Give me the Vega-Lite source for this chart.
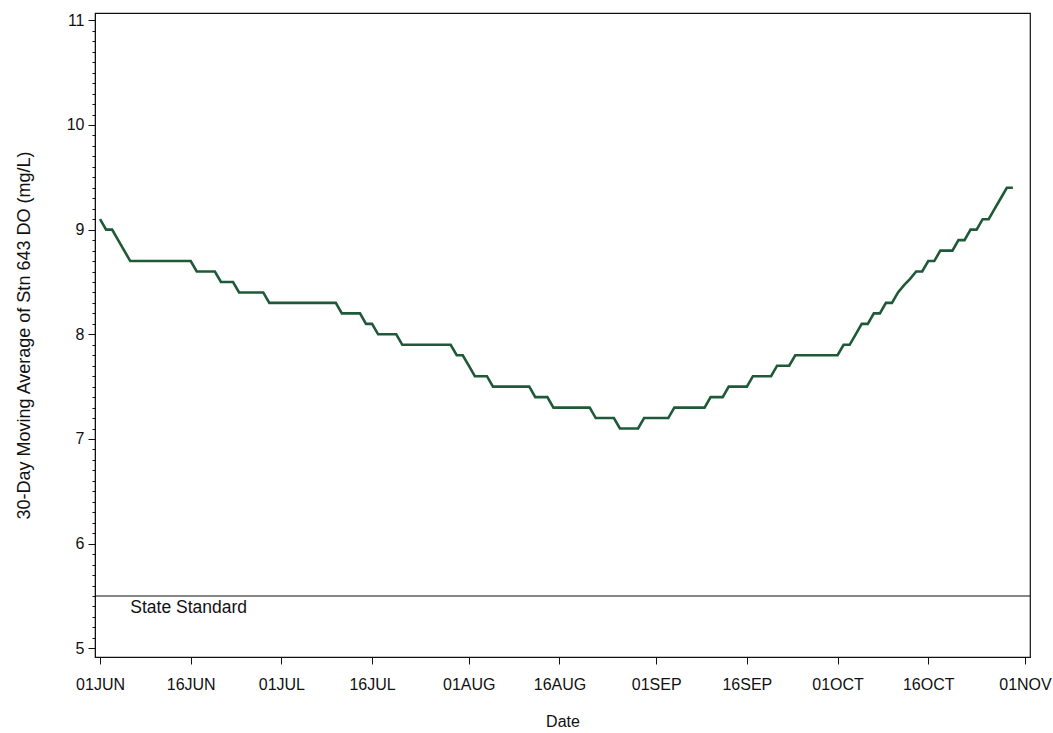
{
  "$schema": "https://vega.github.io/schema/vega-lite/v6.json",
  "autosize": "none",
  "width": 935,
  "height": 644,
  "padding": {"left": 95, "top": 13, "right": 23, "bottom": 76},
  "background": "white",
  "config": {
    "font": "Liberation Sans",
    "view": {"stroke": "#111", "strokeWidth": 1.2},
    "axis": {
      "domainColor": "#111",
      "tickColor": "#111",
      "labelColor": "#111",
      "titleColor": "#111",
      "grid": false,
      "labelFont": "Liberation Sans",
      "titleFont": "Liberation Sans",
      "titleFontWeight": "normal",
      "labelFontSize": 16,
      "titleFontSize": 16
    }
  },
  "data": {
    "values": [
      {"date": "2010-06-01", "do": 9.1},
      {"date": "2010-06-02", "do": 9.0},
      {"date": "2010-06-03", "do": 9.0},
      {"date": "2010-06-04", "do": 8.9},
      {"date": "2010-06-05", "do": 8.8},
      {"date": "2010-06-06", "do": 8.7},
      {"date": "2010-06-07", "do": 8.7},
      {"date": "2010-06-08", "do": 8.7},
      {"date": "2010-06-09", "do": 8.7},
      {"date": "2010-06-10", "do": 8.7},
      {"date": "2010-06-11", "do": 8.7},
      {"date": "2010-06-12", "do": 8.7},
      {"date": "2010-06-13", "do": 8.7},
      {"date": "2010-06-14", "do": 8.7},
      {"date": "2010-06-15", "do": 8.7},
      {"date": "2010-06-16", "do": 8.7},
      {"date": "2010-06-17", "do": 8.6},
      {"date": "2010-06-18", "do": 8.6},
      {"date": "2010-06-19", "do": 8.6},
      {"date": "2010-06-20", "do": 8.6},
      {"date": "2010-06-21", "do": 8.5},
      {"date": "2010-06-22", "do": 8.5},
      {"date": "2010-06-23", "do": 8.5},
      {"date": "2010-06-24", "do": 8.4},
      {"date": "2010-06-25", "do": 8.4},
      {"date": "2010-06-26", "do": 8.4},
      {"date": "2010-06-27", "do": 8.4},
      {"date": "2010-06-28", "do": 8.4},
      {"date": "2010-06-29", "do": 8.3},
      {"date": "2010-06-30", "do": 8.3},
      {"date": "2010-07-01", "do": 8.3},
      {"date": "2010-07-02", "do": 8.3},
      {"date": "2010-07-03", "do": 8.3},
      {"date": "2010-07-04", "do": 8.3},
      {"date": "2010-07-05", "do": 8.3},
      {"date": "2010-07-06", "do": 8.3},
      {"date": "2010-07-07", "do": 8.3},
      {"date": "2010-07-08", "do": 8.3},
      {"date": "2010-07-09", "do": 8.3},
      {"date": "2010-07-10", "do": 8.3},
      {"date": "2010-07-11", "do": 8.2},
      {"date": "2010-07-12", "do": 8.2},
      {"date": "2010-07-13", "do": 8.2},
      {"date": "2010-07-14", "do": 8.2},
      {"date": "2010-07-15", "do": 8.1},
      {"date": "2010-07-16", "do": 8.1},
      {"date": "2010-07-17", "do": 8.0},
      {"date": "2010-07-18", "do": 8.0},
      {"date": "2010-07-19", "do": 8.0},
      {"date": "2010-07-20", "do": 8.0},
      {"date": "2010-07-21", "do": 7.9},
      {"date": "2010-07-22", "do": 7.9},
      {"date": "2010-07-23", "do": 7.9},
      {"date": "2010-07-24", "do": 7.9},
      {"date": "2010-07-25", "do": 7.9},
      {"date": "2010-07-26", "do": 7.9},
      {"date": "2010-07-27", "do": 7.9},
      {"date": "2010-07-28", "do": 7.9},
      {"date": "2010-07-29", "do": 7.9},
      {"date": "2010-07-30", "do": 7.8},
      {"date": "2010-07-31", "do": 7.8},
      {"date": "2010-08-01", "do": 7.7},
      {"date": "2010-08-02", "do": 7.6},
      {"date": "2010-08-03", "do": 7.6},
      {"date": "2010-08-04", "do": 7.6},
      {"date": "2010-08-05", "do": 7.5},
      {"date": "2010-08-06", "do": 7.5},
      {"date": "2010-08-07", "do": 7.5},
      {"date": "2010-08-08", "do": 7.5},
      {"date": "2010-08-09", "do": 7.5},
      {"date": "2010-08-10", "do": 7.5},
      {"date": "2010-08-11", "do": 7.5},
      {"date": "2010-08-12", "do": 7.4},
      {"date": "2010-08-13", "do": 7.4},
      {"date": "2010-08-14", "do": 7.4},
      {"date": "2010-08-15", "do": 7.3},
      {"date": "2010-08-16", "do": 7.3},
      {"date": "2010-08-17", "do": 7.3},
      {"date": "2010-08-18", "do": 7.3},
      {"date": "2010-08-19", "do": 7.3},
      {"date": "2010-08-20", "do": 7.3},
      {"date": "2010-08-21", "do": 7.3},
      {"date": "2010-08-22", "do": 7.2},
      {"date": "2010-08-23", "do": 7.2},
      {"date": "2010-08-24", "do": 7.2},
      {"date": "2010-08-25", "do": 7.2},
      {"date": "2010-08-26", "do": 7.1},
      {"date": "2010-08-27", "do": 7.1},
      {"date": "2010-08-28", "do": 7.1},
      {"date": "2010-08-29", "do": 7.1},
      {"date": "2010-08-30", "do": 7.2},
      {"date": "2010-08-31", "do": 7.2},
      {"date": "2010-09-01", "do": 7.2},
      {"date": "2010-09-02", "do": 7.2},
      {"date": "2010-09-03", "do": 7.2},
      {"date": "2010-09-04", "do": 7.3},
      {"date": "2010-09-05", "do": 7.3},
      {"date": "2010-09-06", "do": 7.3},
      {"date": "2010-09-07", "do": 7.3},
      {"date": "2010-09-08", "do": 7.3},
      {"date": "2010-09-09", "do": 7.3},
      {"date": "2010-09-10", "do": 7.4},
      {"date": "2010-09-11", "do": 7.4},
      {"date": "2010-09-12", "do": 7.4},
      {"date": "2010-09-13", "do": 7.5},
      {"date": "2010-09-14", "do": 7.5},
      {"date": "2010-09-15", "do": 7.5},
      {"date": "2010-09-16", "do": 7.5},
      {"date": "2010-09-17", "do": 7.6},
      {"date": "2010-09-18", "do": 7.6},
      {"date": "2010-09-19", "do": 7.6},
      {"date": "2010-09-20", "do": 7.6},
      {"date": "2010-09-21", "do": 7.7},
      {"date": "2010-09-22", "do": 7.7},
      {"date": "2010-09-23", "do": 7.7},
      {"date": "2010-09-24", "do": 7.8},
      {"date": "2010-09-25", "do": 7.8},
      {"date": "2010-09-26", "do": 7.8},
      {"date": "2010-09-27", "do": 7.8},
      {"date": "2010-09-28", "do": 7.8},
      {"date": "2010-09-29", "do": 7.8},
      {"date": "2010-09-30", "do": 7.8},
      {"date": "2010-10-01", "do": 7.8},
      {"date": "2010-10-02", "do": 7.9},
      {"date": "2010-10-03", "do": 7.9},
      {"date": "2010-10-04", "do": 8.0},
      {"date": "2010-10-05", "do": 8.1},
      {"date": "2010-10-06", "do": 8.1},
      {"date": "2010-10-07", "do": 8.2},
      {"date": "2010-10-08", "do": 8.2},
      {"date": "2010-10-09", "do": 8.3},
      {"date": "2010-10-10", "do": 8.3},
      {"date": "2010-10-11", "do": 8.4},
      {"date": "2010-10-12", "do": 8.47},
      {"date": "2010-10-13", "do": 8.53},
      {"date": "2010-10-14", "do": 8.6},
      {"date": "2010-10-15", "do": 8.6},
      {"date": "2010-10-16", "do": 8.7},
      {"date": "2010-10-17", "do": 8.7},
      {"date": "2010-10-18", "do": 8.8},
      {"date": "2010-10-19", "do": 8.8},
      {"date": "2010-10-20", "do": 8.8},
      {"date": "2010-10-21", "do": 8.9},
      {"date": "2010-10-22", "do": 8.9},
      {"date": "2010-10-23", "do": 9.0},
      {"date": "2010-10-24", "do": 9.0},
      {"date": "2010-10-25", "do": 9.1},
      {"date": "2010-10-26", "do": 9.1},
      {"date": "2010-10-27", "do": 9.2},
      {"date": "2010-10-28", "do": 9.3},
      {"date": "2010-10-29", "do": 9.4},
      {"date": "2010-10-30", "do": 9.4}
    ]
  },
  "layer": [
    {
      "mark": {"type": "line", "color": "#1f5a38", "strokeWidth": 2.6},
      "encoding": {
        "x": {
          "field": "date",
          "type": "temporal",
          "scale": {
            "type": "utc",
            "domain": [
              {"year": 2010, "month": 5, "date": 31, "hours": 4, "utc": true},
              {"year": 2010, "month": 11, "date": 1, "hours": 20, "utc": true}
            ]
          },
          "axis": {
            "title": "Date",
            "values": [
              {"year": 2010, "month": 6, "date": 1, "utc": true},
              {"year": 2010, "month": 6, "date": 16, "utc": true},
              {"year": 2010, "month": 7, "date": 1, "utc": true},
              {"year": 2010, "month": 7, "date": 16, "utc": true},
              {"year": 2010, "month": 8, "date": 1, "utc": true},
              {"year": 2010, "month": 8, "date": 16, "utc": true},
              {"year": 2010, "month": 9, "date": 1, "utc": true},
              {"year": 2010, "month": 9, "date": 16, "utc": true},
              {"year": 2010, "month": 10, "date": 1, "utc": true},
              {"year": 2010, "month": 10, "date": 16, "utc": true},
              {"year": 2010, "month": 11, "date": 1, "utc": true}
            ],
            "labelExpr": "upper(utcFormat(datum.value, '%d%b'))",
            "labelFlush": false,
            "labelOverlap": false,
            "tickSize": 7,
            "labelPadding": 12,
            "titlePadding": 21
          }
        },
        "y": {
          "field": "do",
          "type": "quantitative",
          "scale": {"domain": [4.917, 11.07], "nice": false, "zero": false},
          "axis": {
            "orient": "left",
            "title": "30-Day Moving Average of Stn 643 DO (mg/L)",
            "titleFontSize": 18,
            "values": [5, 6, 7, 8, 9, 10, 11],
            "tickSize": 7,
            "labelPadding": 4,
            "titlePadding": 33
          }
        }
      }
    },
    {
      "data": {"values": [{}]},
      "mark": {"type": "rule", "color": "#111", "strokeWidth": 1.2},
      "encoding": {
        "y": {
          "datum": 5.5,
          "type": "quantitative",
          "axis": {
            "orient": "left",
            "title": null,
            "labels": false,
            "domain": false,
            "tickSize": 3,
            "values": [5.1, 5.2, 5.3, 5.4, 5.5, 5.6, 5.7, 5.8, 5.9, 6.1, 6.2, 6.3, 6.4, 6.5, 6.6, 6.7, 6.8, 6.9, 7.1, 7.2, 7.3, 7.4, 7.5, 7.6, 7.7, 7.8, 7.9, 8.1, 8.2, 8.3, 8.4, 8.5, 8.6, 8.7, 8.8, 8.9, 9.1, 9.2, 9.3, 9.4, 9.5, 9.6, 9.7, 9.8, 9.9, 10.1, 10.2, 10.3, 10.4, 10.5, 10.6, 10.7, 10.8, 10.9]
          }
        }
      }
    },
    {
      "data": {"values": [{}]},
      "mark": {"type": "text", "align": "left", "baseline": "middle", "fontSize": 17.5, "color": "#111", "font": "Liberation Sans"},
      "encoding": {
        "x": {"datum": {"year": 2010, "month": 6, "date": 6, "utc": true}, "type": "temporal"},
        "y": {"datum": 5.385, "type": "quantitative", "axis": null},
        "text": {"value": "State Standard"}
      }
    }
  ],
  "resolve": {"axis": {"y": "independent"}}
}
